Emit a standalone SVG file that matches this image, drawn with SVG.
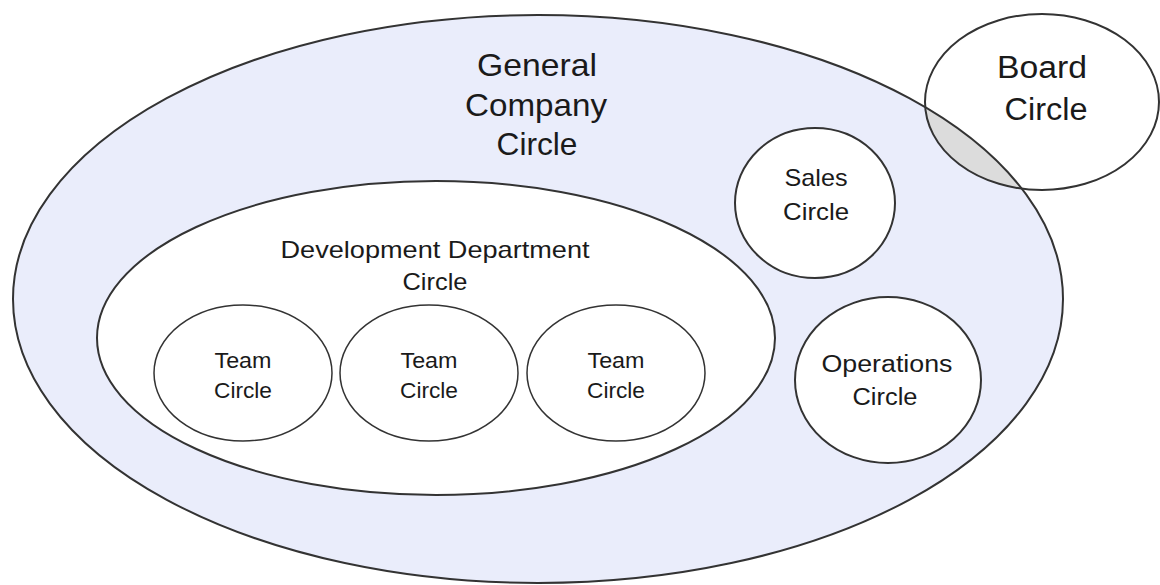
<svg xmlns="http://www.w3.org/2000/svg" width="1160" height="585" viewBox="0 0 1160 585">
<style>
.ln{fill:none;stroke:#333;stroke-width:2}
.t{font-family:"Liberation Sans",Arial,sans-serif;fill:#1a1a1a;text-anchor:middle}
</style>
<defs>
<clipPath id="bigclip"><ellipse cx="538" cy="299" rx="525" ry="284"/></clipPath>
</defs>
<rect width="1160" height="585" fill="#fff"/>
<g id="general">
<ellipse cx="538" cy="299" rx="525" ry="284" fill="#eaedfb"/>
</g>
<g id="board">
<ellipse cx="1042" cy="102" rx="117" ry="88" fill="#fff"/>
<ellipse cx="1042" cy="102" rx="117" ry="88" fill="#dcdcdc" clip-path="url(#bigclip)"/>
<ellipse cx="1042" cy="102" rx="117" ry="88" class="ln"/>
<text class="t" font-size="31" x="1042" y="78" textLength="90" lengthAdjust="spacingAndGlyphs">Board</text>
<text class="t" font-size="31" x="1046" y="120" textLength="83" lengthAdjust="spacingAndGlyphs">Circle</text>
</g>
<g id="general-outline">
<ellipse cx="538" cy="299" rx="525" ry="284" class="ln"/>
<text class="t" font-size="32" x="537" y="76" textLength="120" lengthAdjust="spacingAndGlyphs">General</text>
<text class="t" font-size="32" x="536" y="116" textLength="142" lengthAdjust="spacingAndGlyphs">Company</text>
<text class="t" font-size="32" x="537" y="155" textLength="81" lengthAdjust="spacingAndGlyphs">Circle</text>
</g>
<g id="sales">
<ellipse cx="815" cy="203" rx="80" ry="75" class="ln" style="fill:#fff"/>
<text class="t" font-size="24" x="816" y="186" textLength="63" lengthAdjust="spacingAndGlyphs">Sales</text>
<text class="t" font-size="24" x="816" y="220" textLength="66" lengthAdjust="spacingAndGlyphs">Circle</text>
</g>
<g id="operations">
<ellipse cx="888" cy="380" rx="93" ry="83" class="ln" style="fill:#fff"/>
<text class="t" font-size="23" x="887" y="372" textLength="131" lengthAdjust="spacingAndGlyphs">Operations</text>
<text class="t" font-size="23" x="885" y="405" textLength="65" lengthAdjust="spacingAndGlyphs">Circle</text>
</g>
<g id="development">
<ellipse cx="436" cy="338" rx="339" ry="157" class="ln" style="fill:#fff"/>
<text class="t" font-size="24" x="435" y="258" textLength="309" lengthAdjust="spacingAndGlyphs">Development Department</text>
<text class="t" font-size="24" x="435" y="290" textLength="65" lengthAdjust="spacingAndGlyphs">Circle</text>
</g>
<g id="team1">
<ellipse cx="243" cy="373" rx="89" ry="68" class="ln" style="fill:#fff;stroke-width:1.5"/>
<text class="t" font-size="22" x="243" y="368" textLength="57" lengthAdjust="spacingAndGlyphs">Team</text>
<text class="t" font-size="22" x="243" y="398" textLength="58" lengthAdjust="spacingAndGlyphs">Circle</text>
</g>
<g id="team2">
<ellipse cx="429" cy="373" rx="89" ry="68" class="ln" style="fill:#fff;stroke-width:1.5"/>
<text class="t" font-size="22" x="429" y="368" textLength="57" lengthAdjust="spacingAndGlyphs">Team</text>
<text class="t" font-size="22" x="429" y="398" textLength="58" lengthAdjust="spacingAndGlyphs">Circle</text>
</g>
<g id="team3">
<ellipse cx="616" cy="373" rx="89" ry="68" class="ln" style="fill:#fff;stroke-width:1.5"/>
<text class="t" font-size="22" x="616" y="368" textLength="57" lengthAdjust="spacingAndGlyphs">Team</text>
<text class="t" font-size="22" x="616" y="398" textLength="58" lengthAdjust="spacingAndGlyphs">Circle</text>
</g>
<g id="connectors"/>
</svg>
